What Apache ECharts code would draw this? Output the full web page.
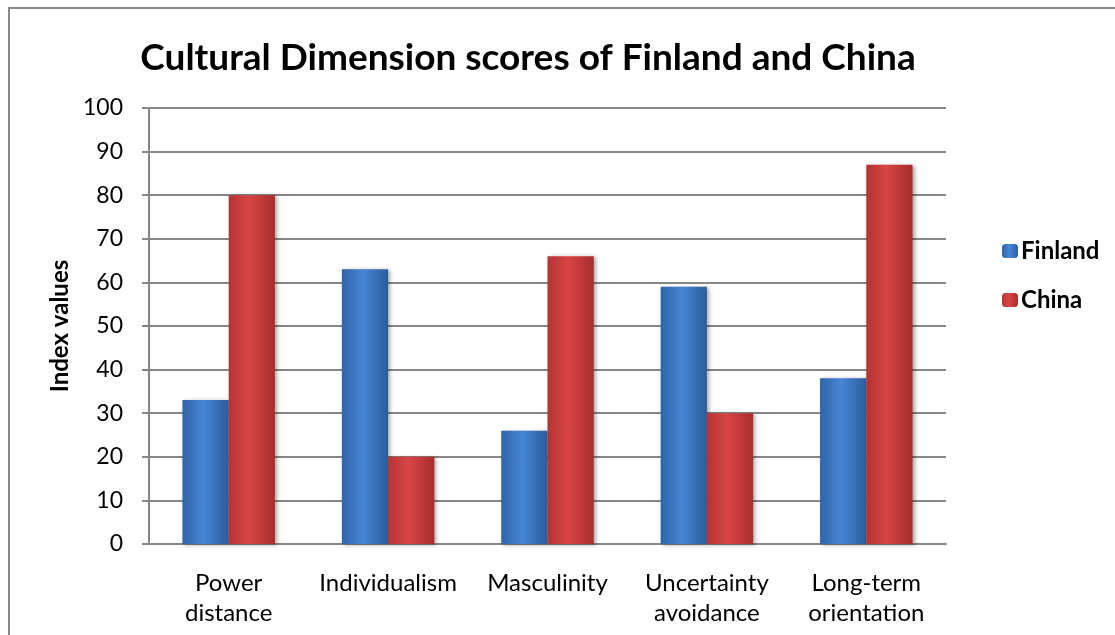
<!DOCTYPE html>
<html><head><meta charset="utf-8">
<script src="https://cdn.jsdelivr.net/npm/echarts@6/dist/echarts.min.js"></script>
<style>html,body{margin:0;padding:0;background:#fff}#c{width:1115px;height:635px}</style>
</head><body><div id="c"></div>
<script>
const categories = ["Power\ndistance", "Individualism", "Masculinity", "Uncertainty\navoidance", "Long-term\norientation"];
const finland = [33, 63, 26, 59, 38];
const china = [80, 20, 66, 30, 87];
const yTicks = [0, 100, 10];

const FONT = "Lato, 'Open Sans', sans-serif";
function grad(c0, c1, c2) {
  return new echarts.graphic.LinearGradient(0, 0, 1, 0, [
    {offset: 0, color: c0}, {offset: 0.45, color: c1}, {offset: 1, color: c2}
  ]);
}
const chart = echarts.init(document.getElementById('c'));
chart.setOption({
  animation: false,
  backgroundColor: '#fff',
  title: {
    text: 'Cultural Dimension scores of Finland and China',
    left: 523, top: 35, textAlign: 'center',
    textStyle: {fontFamily: FONT, fontSize: 37, fontWeight: 'bold', color: '#000'}
  },
  graphic: [{type: 'rect', shape: {x: 9, y: 8, width: 1300, height: 800},
    style: {fill: 'none', stroke: '#878787', lineWidth: 2}, silent: true}],
  legend: {
    orient: 'vertical', left: 997, top: 234, itemWidth: 16, itemHeight: 14, itemGap: 25,
    textStyle: {fontFamily: FONT, fontSize: 24, fontWeight: 'bold', color: '#000', padding: [0, 0, 0, -2]},
    data: ['Finland', 'China']
  },
  grid: {left: 149, right: 169, top: 108, bottom: 91},
  xAxis: {
    type: 'category', data: categories,
    axisLine: {lineStyle: {color: '#868686', width: 2}},
    axisTick: {show: false},
    axisLabel: {interval: 0, fontFamily: FONT, fontSize: 24, color: '#000', lineHeight: 30, margin: 24}
  },
  yAxis: {
    type: 'value', min: yTicks[0], max: yTicks[1], interval: yTicks[2],
    name: 'Index values', nameLocation: 'middle', nameGap: 75,
    nameTextStyle: {fontFamily: FONT, fontSize: 24, fontWeight: 'bold', color: '#000'},
    axisLine: {show: true, lineStyle: {color: '#868686', width: 2}},
    axisTick: {show: true, length: 7, lineStyle: {color: '#868686', width: 2}},
    splitLine: {lineStyle: {color: '#868686', width: 2}},
    axisLabel: {fontFamily: FONT, fontSize: 23, color: '#000', margin: 26}
  },
  series: [
    {name: 'Finland', type: 'bar', data: finland, barWidth: '29%', barGap: '0%',
     itemStyle: {color: grad('#2f64a8', '#4686d6', '#2d5c9c'), shadowBlur: 4,
       shadowColor: 'rgba(0,0,0,0.35)', shadowOffsetX: 2, shadowOffsetY: 1}},
    {name: 'China', type: 'bar', data: china, barWidth: '29%', barGap: '0%',
     itemStyle: {color: grad('#b53434', '#d84444', '#a62e2e'), shadowBlur: 4,
       shadowColor: 'rgba(0,0,0,0.35)', shadowOffsetX: 2, shadowOffsetY: 1}}
  ]
});
</script></body></html>
